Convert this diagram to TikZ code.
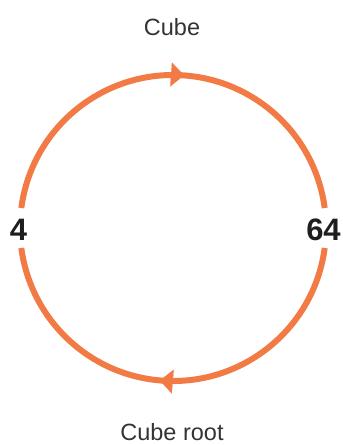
\documentclass[tikz,border=0pt]{standalone}
\usepackage{fontspec}
\setmainfont{Liberation Sans}
\usetikzlibrary{arrows.meta,decorations.markings}
\definecolor{ringorange}{RGB}{242,122,68}
\definecolor{labelgray}{RGB}{51,51,51}
\definecolor{numblack}{RGB}{30,30,30}
\begin{document}
\begin{tikzpicture}[x=1pt,y=1pt,
  lbl/.style={inner sep=0pt,text=labelgray,font=\fontsize{23.5}{28}\selectfont},
  num/.style={inner sep=0pt,text=numblack,font=\fontsize{31}{36}\selectfont\bfseries},
  ring/.style={draw=ringorange,line width=6pt,line cap=butt},
  midtip/.style={postaction={decorate},decoration={markings,
    mark=at position #1 with {\arrow[ringorange,line width=0.1pt]{Triangle[length=13pt,width=24pt]}}}}]
\useasboundingbox (0,0) rectangle (343,-445);
\coordinate (c) at (173,-228);
\node[lbl] (cube) at (172,-27) {Cube};
\node[lbl] (root) at (172,-432) {Cube root};
\node[num] (four) at (18.5,-229.5) {4};
\node[num] (sixtyfour) at (323.5,-229.5) {64};
\coordinate (l1) at ([shift={(172.5:153)}]c);
\coordinate (r2) at ([shift={(352.5:153)}]c);
\draw[ring,midtip=0.525] (l1) arc[start angle=172.5,end angle=7.5,radius=153];
\draw[ring,midtip=0.53] (r2) arc[start angle=352.5,end angle=187.5,radius=153];
\end{tikzpicture}
\end{document}
